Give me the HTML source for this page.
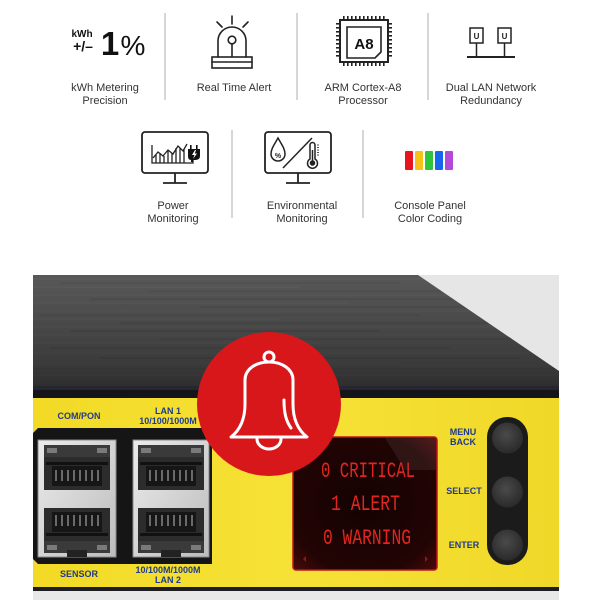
<!DOCTYPE html>
<html><head><meta charset="utf-8"><style>
html,body{margin:0;padding:0;background:#fff;}
svg{display:block;}
.lbl{font-family:"Liberation Sans",sans-serif;font-size:11px;fill:#333;text-anchor:middle;}
.dl{font-family:"Liberation Sans",sans-serif;font-size:9px;font-weight:bold;fill:#1e3a8c;text-anchor:middle;}
.lcd{font-family:"Liberation Mono",monospace;font-size:22px;fill:#e0261f;}
</style></head><body>
<svg width="600" height="600" viewBox="0 0 600 600" xmlns="http://www.w3.org/2000/svg">
<defs>
<linearGradient id="metal" x1="0" y1="0" x2="0" y2="1">
<stop offset="0" stop-color="#585858"/><stop offset="0.35" stop-color="#4c4c4c"/><stop offset="0.8" stop-color="#393939"/><stop offset="1" stop-color="#2c2c2c"/>
</linearGradient>
<linearGradient id="yel" x1="0" y1="0" x2="1" y2="0">
<stop offset="0" stop-color="#f2da26"/><stop offset="0.5" stop-color="#f6e236"/><stop offset="1" stop-color="#f0d828"/>
</linearGradient>
<linearGradient id="silver" x1="0" y1="0" x2="1" y2="1">
<stop offset="0" stop-color="#ececec"/><stop offset="1" stop-color="#bcbcbc"/>
</linearGradient>
<radialGradient id="lcdbg" cx="0.5" cy="0.5" r="0.7">
<stop offset="0" stop-color="#140202"/><stop offset="0.75" stop-color="#220404"/><stop offset="1" stop-color="#4a0a0a"/>
</radialGradient>
<radialGradient id="btn" cx="0.45" cy="0.4" r="0.6">
<stop offset="0" stop-color="#4a4a4a"/><stop offset="1" stop-color="#2a2a2a"/>
</radialGradient>
</defs>

<!-- ===== Top icon row ===== -->
<g stroke="#c8c8c8" stroke-width="1.5">
<line x1="165" y1="13" x2="165" y2="100"/>
<line x1="297" y1="13" x2="297" y2="100"/>
<line x1="428" y1="13" x2="428" y2="100"/>
<line x1="232" y1="130" x2="232" y2="218"/>
<line x1="363" y1="130" x2="363" y2="218"/>
</g>

<!-- kWh 1% -->
<text x="82" y="37" font-family="Liberation Sans,sans-serif" font-size="10" font-weight="bold" fill="#111" text-anchor="middle">kWh</text>
<text x="83" y="51" font-family="Liberation Sans,sans-serif" font-size="14" font-weight="bold" fill="#111" text-anchor="middle">+/–</text>
<text x="110" y="55" font-family="Liberation Sans,sans-serif" font-size="33" font-weight="bold" fill="#111" text-anchor="middle">1</text>
<text x="133" y="55" font-family="Liberation Sans,sans-serif" font-size="28" fill="#111" text-anchor="middle">%</text>

<!-- Siren -->
<g stroke="#222" stroke-width="1.6" fill="none" stroke-linecap="round">
<path d="M218 57 L218 41 A14 14 0 0 1 246 41 L246 57"/>
<circle cx="232" cy="40" r="3.8"/>
<line x1="232" y1="44" x2="232" y2="56"/>
<line x1="232" y1="16" x2="232" y2="24"/>
<line x1="217" y1="22" x2="222" y2="27"/>
<line x1="248" y1="22" x2="243" y2="27"/>
<rect x="212" y="57" width="40" height="11"/>
<line x1="212" y1="62" x2="252" y2="62"/>
</g>

<!-- Chip -->
<g fill="#222">
<rect x="343" y="16" width="1.6" height="4"/><rect x="347" y="16" width="1.6" height="4"/><rect x="351" y="16" width="1.6" height="4"/><rect x="355" y="16" width="1.6" height="4"/><rect x="359" y="16" width="1.6" height="4"/><rect x="363" y="16" width="1.6" height="4"/><rect x="367" y="16" width="1.6" height="4"/><rect x="371" y="16" width="1.6" height="4"/><rect x="375" y="16" width="1.6" height="4"/><rect x="379" y="16" width="1.6" height="4"/><rect x="383" y="16" width="1.6" height="4"/>
<rect x="343" y="62" width="1.6" height="4"/><rect x="347" y="62" width="1.6" height="4"/><rect x="351" y="62" width="1.6" height="4"/><rect x="355" y="62" width="1.6" height="4"/><rect x="359" y="62" width="1.6" height="4"/><rect x="363" y="62" width="1.6" height="4"/><rect x="367" y="62" width="1.6" height="4"/><rect x="371" y="62" width="1.6" height="4"/><rect x="375" y="62" width="1.6" height="4"/><rect x="379" y="62" width="1.6" height="4"/><rect x="383" y="62" width="1.6" height="4"/>
<rect x="336" y="23" width="4" height="1.6"/><rect x="336" y="27" width="4" height="1.6"/><rect x="336" y="31" width="4" height="1.6"/><rect x="336" y="35" width="4" height="1.6"/><rect x="336" y="39" width="4" height="1.6"/><rect x="336" y="43" width="4" height="1.6"/><rect x="336" y="47" width="4" height="1.6"/><rect x="336" y="51" width="4" height="1.6"/><rect x="336" y="55" width="4" height="1.6"/>
<rect x="388" y="23" width="4" height="1.6"/><rect x="388" y="27" width="4" height="1.6"/><rect x="388" y="31" width="4" height="1.6"/><rect x="388" y="35" width="4" height="1.6"/><rect x="388" y="39" width="4" height="1.6"/><rect x="388" y="43" width="4" height="1.6"/><rect x="388" y="47" width="4" height="1.6"/><rect x="388" y="51" width="4" height="1.6"/><rect x="388" y="55" width="4" height="1.6"/>
</g>
<g stroke="#222" fill="none">
<rect x="340" y="20" width="48" height="42" stroke-width="2"/>
<path d="M347 27 L381 27 L381 52 L375 58 L347 58 Z" stroke-width="1.6"/>
</g>
<text x="364" y="49" font-family="Liberation Sans,sans-serif" font-size="15" font-weight="bold" fill="#111" text-anchor="middle">A8</text>

<!-- LAN -->
<g stroke="#222" fill="none" stroke-width="1.5">
<rect x="470" y="28" width="13" height="15"/>
<rect x="498" y="28" width="13" height="15"/>
<line x1="476.5" y1="43" x2="476.5" y2="57"/>
<line x1="504.5" y1="43" x2="504.5" y2="57"/>
<line x1="467" y1="57" x2="515" y2="57" stroke-width="2"/>
</g>
<text x="476.5" y="39" font-family="Liberation Sans,sans-serif" font-size="8" font-weight="bold" fill="#222" text-anchor="middle">U</text>
<text x="504.5" y="39" font-family="Liberation Sans,sans-serif" font-size="8" font-weight="bold" fill="#222" text-anchor="middle">U</text>

<text class="lbl" x="105" y="91">kWh Metering</text>
<text class="lbl" x="105" y="104">Precision</text>
<text class="lbl" x="234" y="91">Real Time Alert</text>
<text class="lbl" x="363" y="91">ARM Cortex-A8</text>
<text class="lbl" x="363" y="104">Processor</text>
<text class="lbl" x="491" y="91">Dual LAN Network</text>
<text class="lbl" x="491" y="104">Redundancy</text>

<!-- ===== Second icon row ===== -->
<g stroke="#222" fill="none" stroke-width="1.8">
<rect x="142" y="132" width="66" height="41" rx="3"/>
<line x1="175" y1="173" x2="175" y2="183"/>
<line x1="163" y1="183" x2="187" y2="183"/>
<rect x="265" y="132" width="66" height="41" rx="3"/>
<line x1="298" y1="173" x2="298" y2="183"/>
<line x1="286" y1="183" x2="310" y2="183"/>
</g>
<!-- chart -->
<g stroke="#222" fill="none" stroke-width="1.3">
<polyline points="152,145 152,163 193,163 193,160"/>
<polyline points="153,158 158,152 163,156 168,150 173,154 178,146 183,151 187,144"/>
<line x1="156" y1="155" x2="156" y2="163"/><line x1="160" y1="153" x2="160" y2="163"/><line x1="164" y1="156" x2="164" y2="163"/><line x1="168" y1="151" x2="168" y2="163"/><line x1="172" y1="153" x2="172" y2="163"/><line x1="176" y1="148" x2="176" y2="163"/><line x1="180" y1="148" x2="180" y2="163"/><line x1="184" y1="149" x2="184" y2="163"/>
</g>
<path d="M188 149 L200 149 L200 156 Q200 160 195 160 L193 160 L193 162 L191 162 L191 160 Q188 160 188 156 Z" fill="#111"/>
<rect x="190" y="145" width="1.6" height="4" fill="#111"/><rect x="196" y="145" width="1.6" height="4" fill="#111"/>
<path d="M195 150 L192 155 L194.5 155 L193 159 L197 153.5 L194.8 153.5 L196 150 Z" fill="#fff"/>
<!-- drop / thermometer -->
<g stroke="#222" fill="none" stroke-width="1.5">
<path d="M278 138 C274 145 271 149 271 154 A7 7 0 0 0 285 154 C285 149 282 145 278 138 Z"/>
<line x1="283" y1="168" x2="312" y2="138"/>
<path d="M310 159 L310 145 A2.5 2.5 0 0 1 315 145 L315 159 A5 5 0 1 1 310 159 Z"/>
<circle cx="312.5" cy="163" r="2" fill="#222"/>
<line x1="312.5" y1="150" x2="312.5" y2="161"/>
</g>
<text x="278" y="158" font-family="Liberation Sans,sans-serif" font-size="7" font-weight="bold" fill="#222" text-anchor="middle">%</text>
<g stroke="#222" stroke-width="0.8"><line x1="317" y1="145" x2="319" y2="145"/><line x1="317" y1="147.5" x2="319" y2="147.5"/><line x1="317" y1="150" x2="319" y2="150"/><line x1="317" y1="152.5" x2="319" y2="152.5"/><line x1="317" y1="155" x2="319" y2="155"/></g>
<!-- color bars -->
<rect x="405" y="151" width="8" height="19" rx="1" fill="#e8141e"/>
<rect x="415" y="151" width="8" height="19" rx="1" fill="#f6c21a"/>
<rect x="425" y="151" width="8" height="19" rx="1" fill="#2fc53a"/>
<rect x="435" y="151" width="8" height="19" rx="1" fill="#1565f0"/>
<rect x="445" y="151" width="8" height="19" rx="1" fill="#b449d8"/>

<text class="lbl" x="173" y="209">Power</text>
<text class="lbl" x="173" y="222">Monitoring</text>
<text class="lbl" x="302" y="209">Environmental</text>
<text class="lbl" x="302" y="222">Monitoring</text>
<text class="lbl" x="430" y="209">Console Panel</text>
<text class="lbl" x="430" y="222">Color Coding</text>

<!-- ===== Device ===== -->
<rect x="33" y="275" width="526" height="115" fill="url(#metal)"/>
<g stroke-width="1">
<line x1="33" y1="279" x2="559" y2="279" stroke="#6a6a6a" stroke-opacity="0.4"/>
<line x1="60" y1="283" x2="400" y2="283" stroke="#333" stroke-opacity="0.25"/>
<line x1="33" y1="287" x2="300" y2="287" stroke="#707070" stroke-opacity="0.3"/>
<line x1="150" y1="291" x2="520" y2="291" stroke="#2e2e2e" stroke-opacity="0.25"/>
<line x1="33" y1="295" x2="559" y2="295" stroke="#6c6c6c" stroke-opacity="0.25"/>
<line x1="90" y1="299" x2="480" y2="299" stroke="#303030" stroke-opacity="0.3"/>
<line x1="33" y1="303" x2="350" y2="303" stroke="#686868" stroke-opacity="0.3"/>
<line x1="200" y1="307" x2="559" y2="307" stroke="#2a2a2a" stroke-opacity="0.25"/>
<line x1="33" y1="311" x2="559" y2="311" stroke="#626262" stroke-opacity="0.3"/>
<line x1="40" y1="315" x2="420" y2="315" stroke="#262626" stroke-opacity="0.25"/>
<line x1="33" y1="319" x2="280" y2="319" stroke="#616161" stroke-opacity="0.3"/>
<line x1="120" y1="323" x2="559" y2="323" stroke="#252525" stroke-opacity="0.25"/>
<line x1="33" y1="327" x2="500" y2="327" stroke="#5c5c5c" stroke-opacity="0.3"/>
<line x1="70" y1="331" x2="380" y2="331" stroke="#222" stroke-opacity="0.3"/>
<line x1="33" y1="335" x2="559" y2="335" stroke="#585858" stroke-opacity="0.25"/>
<line x1="160" y1="339" x2="559" y2="339" stroke="#1f1f1f" stroke-opacity="0.25"/>
<line x1="33" y1="343" x2="320" y2="343" stroke="#555" stroke-opacity="0.3"/>
<line x1="50" y1="348" x2="450" y2="348" stroke="#1c1c1c" stroke-opacity="0.25"/>
<line x1="33" y1="353" x2="559" y2="353" stroke="#505050" stroke-opacity="0.25"/>
<line x1="100" y1="358" x2="520" y2="358" stroke="#1a1a1a" stroke-opacity="0.25"/>
<line x1="33" y1="363" x2="400" y2="363" stroke="#4c4c4c" stroke-opacity="0.25"/>
<line x1="33" y1="369" x2="559" y2="369" stroke="#1a1a1a" stroke-opacity="0.25"/>
<line x1="33" y1="375" x2="559" y2="375" stroke="#444" stroke-opacity="0.25"/>
</g>
<polygon points="418,275 559,275 559,371" fill="#e6e6e6"/>
<rect x="33" y="386" width="526" height="5" fill="#262630"/>
<rect x="33" y="390" width="526" height="8" fill="#14141a"/>

<!-- yellow panel -->
<rect x="33" y="398" width="526" height="190" fill="url(#yel)"/>
<!-- bottom -->
<rect x="33" y="587" width="526" height="4" fill="#1e1e22"/>
<rect x="33" y="591" width="526" height="9" fill="#e8e8e8"/>

<!-- port block -->
<polygon points="38,428 212,428 212,564 38,564 33,559 33,433" fill="#151515"/>
<g>
<rect x="38" y="440" width="78" height="117" fill="url(#silver)" stroke="#8a8a8a" stroke-width="1"/>
<rect x="133" y="440" width="76" height="117" fill="url(#silver)" stroke="#8a8a8a" stroke-width="1"/>
</g>
<!-- jacks -->
<g>
<rect x="44" y="445" width="66" height="45" fill="#2c2c2c"/>
<rect x="44" y="445" width="66" height="12" fill="#3a3a3a"/>
<rect x="47" y="448" width="10" height="5" fill="#7a7a7a"/><rect x="97" y="448" width="10" height="5" fill="#7a7a7a"/>
<rect x="46" y="462" width="62" height="3" fill="#111"/>
<rect x="52" y="466" width="50" height="20" fill="#161616"/>
<g fill="#6a6a6a"><rect x="55" y="470" width="2" height="11"/><rect x="61" y="470" width="2" height="11"/><rect x="67" y="470" width="2" height="11"/><rect x="73" y="470" width="2" height="11"/><rect x="79" y="470" width="2" height="11"/><rect x="85" y="470" width="2" height="11"/><rect x="91" y="470" width="2" height="11"/><rect x="97" y="470" width="2" height="11"/></g>
<rect x="44" y="508" width="66" height="45" fill="#2c2c2c"/>
<rect x="52" y="512" width="50" height="20" fill="#161616"/>
<g fill="#6a6a6a"><rect x="55" y="515" width="2" height="11"/><rect x="61" y="515" width="2" height="11"/><rect x="67" y="515" width="2" height="11"/><rect x="73" y="515" width="2" height="11"/><rect x="79" y="515" width="2" height="11"/><rect x="85" y="515" width="2" height="11"/><rect x="91" y="515" width="2" height="11"/><rect x="97" y="515" width="2" height="11"/></g>
<rect x="46" y="533" width="62" height="3" fill="#111"/>
<rect x="44" y="541" width="66" height="12" fill="#3a3a3a"/>
<rect x="47" y="545" width="10" height="5" fill="#7a7a7a"/><rect x="97" y="545" width="10" height="5" fill="#7a7a7a"/>
<rect x="67" y="550" width="20" height="7" fill="#222"/>
<rect x="138" y="445" width="66" height="45" fill="#2c2c2c"/>
<rect x="138" y="445" width="66" height="12" fill="#3a3a3a"/>
<rect x="141" y="448" width="10" height="5" fill="#7a7a7a"/><rect x="191" y="448" width="10" height="5" fill="#7a7a7a"/>
<rect x="140" y="462" width="62" height="3" fill="#111"/>
<rect x="146" y="466" width="50" height="20" fill="#161616"/>
<g fill="#6a6a6a"><rect x="149" y="470" width="2" height="11"/><rect x="155" y="470" width="2" height="11"/><rect x="161" y="470" width="2" height="11"/><rect x="167" y="470" width="2" height="11"/><rect x="173" y="470" width="2" height="11"/><rect x="179" y="470" width="2" height="11"/><rect x="185" y="470" width="2" height="11"/><rect x="191" y="470" width="2" height="11"/></g>
<rect x="138" y="508" width="66" height="45" fill="#2c2c2c"/>
<rect x="146" y="512" width="50" height="20" fill="#161616"/>
<g fill="#6a6a6a"><rect x="149" y="515" width="2" height="11"/><rect x="155" y="515" width="2" height="11"/><rect x="161" y="515" width="2" height="11"/><rect x="167" y="515" width="2" height="11"/><rect x="173" y="515" width="2" height="11"/><rect x="179" y="515" width="2" height="11"/><rect x="185" y="515" width="2" height="11"/><rect x="191" y="515" width="2" height="11"/></g>
<rect x="140" y="533" width="62" height="3" fill="#111"/>
<rect x="138" y="541" width="66" height="12" fill="#3a3a3a"/>
<rect x="141" y="545" width="10" height="5" fill="#7a7a7a"/><rect x="191" y="545" width="10" height="5" fill="#7a7a7a"/>
<rect x="161" y="550" width="20" height="7" fill="#222"/>
</g>

<!-- device labels -->
<text class="dl" x="79" y="419">COM/PON</text>
<text class="dl" x="168" y="414">LAN 1</text>
<text class="dl" x="168" y="424">10/100/1000M</text>
<text class="dl" x="79" y="577">SENSOR</text>
<text class="dl" x="168" y="573">10/100M/1000M</text>
<text class="dl" x="168" y="583">LAN 2</text>

<!-- LCD -->
<rect x="293" y="437" width="144" height="133" rx="3" fill="url(#lcdbg)" stroke="#c0151b" stroke-width="1.5"/>
<polygon points="385,438 436,438 436,470 405,470" fill="#ffffff" fill-opacity="0.07"/>
<text class="lcd" x="321" y="477" textLength="94" lengthAdjust="spacingAndGlyphs">0 CRITICAL</text>
<text class="lcd" x="331" y="510" textLength="69" lengthAdjust="spacingAndGlyphs">1 ALERT</text>
<text class="lcd" x="323" y="544" textLength="88" lengthAdjust="spacingAndGlyphs">0 WARNING</text>
<polygon points="303,559 306,556 306,562" fill="#8a1a1a"/>
<polygon points="428,559 425,556 425,562" fill="#8a1a1a"/>

<!-- buttons -->
<rect x="487" y="417" width="41" height="148" rx="20" fill="#1b1b1b"/>
<circle cx="507.5" cy="438" r="15.5" fill="url(#btn)"/>
<circle cx="507.5" cy="492" r="15.5" fill="url(#btn)"/>
<circle cx="507.5" cy="545" r="15.5" fill="url(#btn)"/>
<text class="dl" x="463" y="435">MENU</text>
<text class="dl" x="463" y="445">BACK</text>
<text class="dl" x="464" y="494">SELECT</text>
<text class="dl" x="464" y="548">ENTER</text>

<!-- red circle with bell -->
<circle cx="269" cy="404" r="72" fill="#d8171b"/>
<g stroke="#fff" stroke-width="3" fill="none" stroke-linecap="round" stroke-linejoin="round">
<circle cx="269" cy="357" r="5"/>
<path d="M231 437 C240 430 245 420 245 404 L245 380 C245 369 256 362 269 362 C282 362 293 369 293 380 L293 404 C293 420 298 430 307 437 Z"/>
<path d="M257 439 A12 10 0 0 0 281 439"/>
<path d="M284 400 C284 413 286 421 291 428"/>
</g>
</svg>
</body></html>
